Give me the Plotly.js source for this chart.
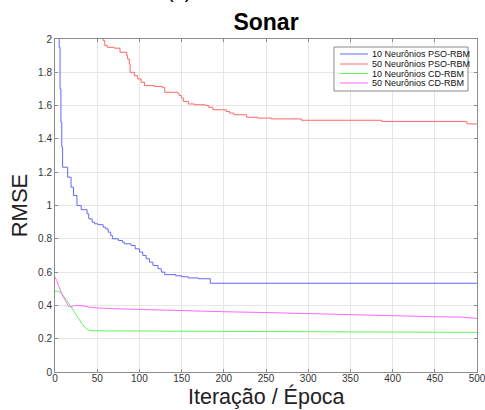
<!DOCTYPE html>
<html>
<head>
<meta charset="utf-8">
<script src="https://cdn.plot.ly/plotly-3.0.1.min.js"></script>
<style>
  html, body { margin: 0; padding: 0; background: #fff; }
  #chart { width: 485px; height: 410px; }
</style>
</head>
<body>
<div id="chart"></div>
<script>
// RMSE per iteration / epoch on the Sonar data set

const seriesNames = [
  '10 Neurônios PSO-RBM',
  '50 Neurônios PSO-RBM',
  '10 Neurônios CD-RBM',
  '50 Neurônios CD-RBM'
];

// 10 neurons, PSO-RBM (stepwise best-so-far error)
const pso10Iter = [0, 4, 5, 6, 7, 8, 9, 15, 19, 22, 26, 31, 38, 40, 44, 47, 51, 57, 60, 63, 66, 68, 75, 80, 82, 90, 95, 100, 104, 108, 112, 116, 122, 126, 130, 143, 150, 158, 170, 184, 500];
const pso10Rmse = [3.0, 2.3, 1.95, 1.7, 1.5, 1.35, 1.23, 1.17, 1.11, 1.06, 1.0, 0.975, 0.95, 0.92, 0.90, 0.89, 0.885, 0.87, 0.86, 0.84, 0.82, 0.80, 0.79, 0.78, 0.77, 0.76, 0.74, 0.72, 0.70, 0.68, 0.66, 0.64, 0.62, 0.60, 0.585, 0.578, 0.572, 0.565, 0.56, 0.533, 0.533];

// 50 neurons, PSO-RBM
const pso50Iter = [0, 30, 50, 56, 57, 59, 62, 70, 77, 85, 86, 88, 89, 94, 98, 102, 106, 118, 127, 130, 145, 147, 150, 152, 158, 165, 178, 182, 187, 203, 207, 212, 227, 240, 256, 292, 387, 488, 500];
const pso50Rmse = [2.6, 2.3, 2.1, 2.02, 1.99, 1.96, 1.95, 1.945, 1.92, 1.90, 1.88, 1.85, 1.80, 1.78, 1.76, 1.74, 1.72, 1.715, 1.71, 1.68, 1.675, 1.66, 1.645, 1.625, 1.61, 1.605, 1.60, 1.59, 1.575, 1.565, 1.555, 1.545, 1.53, 1.525, 1.52, 1.512, 1.505, 1.49, 1.49];

// 10 neurons, CD-RBM
const cd10Iter = [0, 4, 8, 12, 16, 20, 24, 28, 32, 36, 40, 45, 60, 100, 150, 200, 250, 300, 350, 400, 450, 500];
const cd10Rmse = [0.485, 0.485, 0.47, 0.445, 0.415, 0.385, 0.35, 0.32, 0.29, 0.265, 0.252, 0.248, 0.247, 0.245, 0.245, 0.244, 0.243, 0.242, 0.241, 0.240, 0.239, 0.238];

// 50 neurons, CD-RBM
const cd50Iter = [0, 2, 4, 6, 8, 10, 13, 16, 19, 22, 26, 32, 40, 50, 70, 100, 150, 200, 250, 300, 350, 400, 450, 480, 500];
const cd50Rmse = [0.57, 0.55, 0.52, 0.49, 0.47, 0.45, 0.42, 0.395, 0.39, 0.398, 0.40, 0.398, 0.39, 0.385, 0.38, 0.375, 0.37, 0.362, 0.357, 0.35, 0.342, 0.336, 0.332, 0.33, 0.322];

const colors = ['#6666ff', '#ff6666', '#5cf55c', '#ff66ff'];

const xTicks = [0, 50, 100, 150, 200, 250, 300, 350, 400, 450, 500];
const yTicks = [0, 0.2, 0.4, 0.6, 0.8, 1, 1.2, 1.4, 1.6, 1.8, 2];

const FONT = '"Liberation Sans", Arial, Helvetica, sans-serif';
const M = { l: 55, r: 8, t: 39, b: 38 };
const W = 485, H = 410;
const plotW = W - M.l - M.r, plotH = H - M.t - M.b;
// pixel -> paper coordinates
const px = x => (x - M.l) / plotW;
const py = y => (H - M.b - y) / plotH;

const series = [
  [pso10Iter, pso10Rmse, 'hv'],
  [pso50Iter, pso50Rmse, 'hv'],
  [cd10Iter, cd10Rmse, 'linear'],
  [cd50Iter, cd50Rmse, 'linear']
];

const traces = series.map((s, i) => ({
  x: s[0], y: s[1], name: seriesNames[i],
  type: 'scatter', mode: 'lines',
  line: { color: colors[i], width: 1, shape: s[2] },
  showlegend: false
}));

// Boxed legend in the upper-right corner
const shapes = [{
  type: 'rect', xref: 'paper', yref: 'paper',
  x0: px(334), x1: px(468), y0: py(91), y1: py(47),
  line: { color: '#8a8a8a', width: 1 }, fillcolor: '#ffffff', layer: 'above'
}];
const annotations = [];
const rowY = [54, 64, 73.5, 83];
seriesNames.forEach((name, i) => {
  shapes.push({
    type: 'line', xref: 'paper', yref: 'paper',
    x0: px(340), x1: px(368), y0: py(rowY[i]), y1: py(rowY[i]),
    line: { color: colors[i], width: 1 }, layer: 'above'
  });
  annotations.push({
    xref: 'paper', yref: 'paper', x: px(370), y: py(rowY[i]),
    xanchor: 'left', yanchor: 'middle', showarrow: false,
    text: name, font: { family: FONT, size: 9, color: '#111' }
  });
});
// subfigure caption, sitting just above the top edge of the page
annotations.push({
  xref: 'paper', yref: 'paper', x: px(179), y: py(4),
  xanchor: 'center', yanchor: 'bottom', showarrow: false,
  text: '(a)', font: { family: FONT, size: 20, color: '#000' }
});
// x-axis title, placed under the tick labels
annotations.push({
  xref: 'paper', yref: 'paper', x: 0.5, y: py(410),
  xanchor: 'center', yanchor: 'bottom', showarrow: false, borderpad: 0,
  text: 'Iteração / Época', font: { family: FONT, size: 21.5, color: '#222' }
});

const axisCommon = {
  showline: true, linecolor: '#8c8c8c', linewidth: 1, mirror: 'ticks',
  ticks: 'inside', ticklen: 3, tickcolor: '#8c8c8c',
  showgrid: true, gridcolor: '#e6e6e6', gridwidth: 1,
  zeroline: false,
  tickfont: { family: FONT, size: 10, color: '#333' }
};

const layout = {
  width: W, height: H,
  margin: M,
  paper_bgcolor: '#fff', plot_bgcolor: '#fff',
  showlegend: false,
  title: {
    text: '<b>Sonar</b>',
    font: { family: FONT, size: 23, color: '#000' },
    x: 0.5, xref: 'paper', xanchor: 'center',
    y: 1 - 22 / H, yref: 'container', yanchor: 'middle'
  },
  xaxis: Object.assign({}, axisCommon, {
    range: [0, 500], tickvals: xTicks, ticktext: xTicks.map(String),
    ticklabeloverflow: 'allow', ticklabelstandoff: -3
  }),
  yaxis: Object.assign({}, axisCommon, {
    range: [0, 2], tickvals: yTicks, ticktext: yTicks.map(String),
    title: { text: 'RMSE', font: { family: FONT, size: 22, color: '#222' }, standoff: 4 }
  }),
  shapes: shapes,
  annotations: annotations
};

Plotly.newPlot('chart', traces, layout, { displayModeBar: false, staticPlot: true });
</script>
</body>
</html>
